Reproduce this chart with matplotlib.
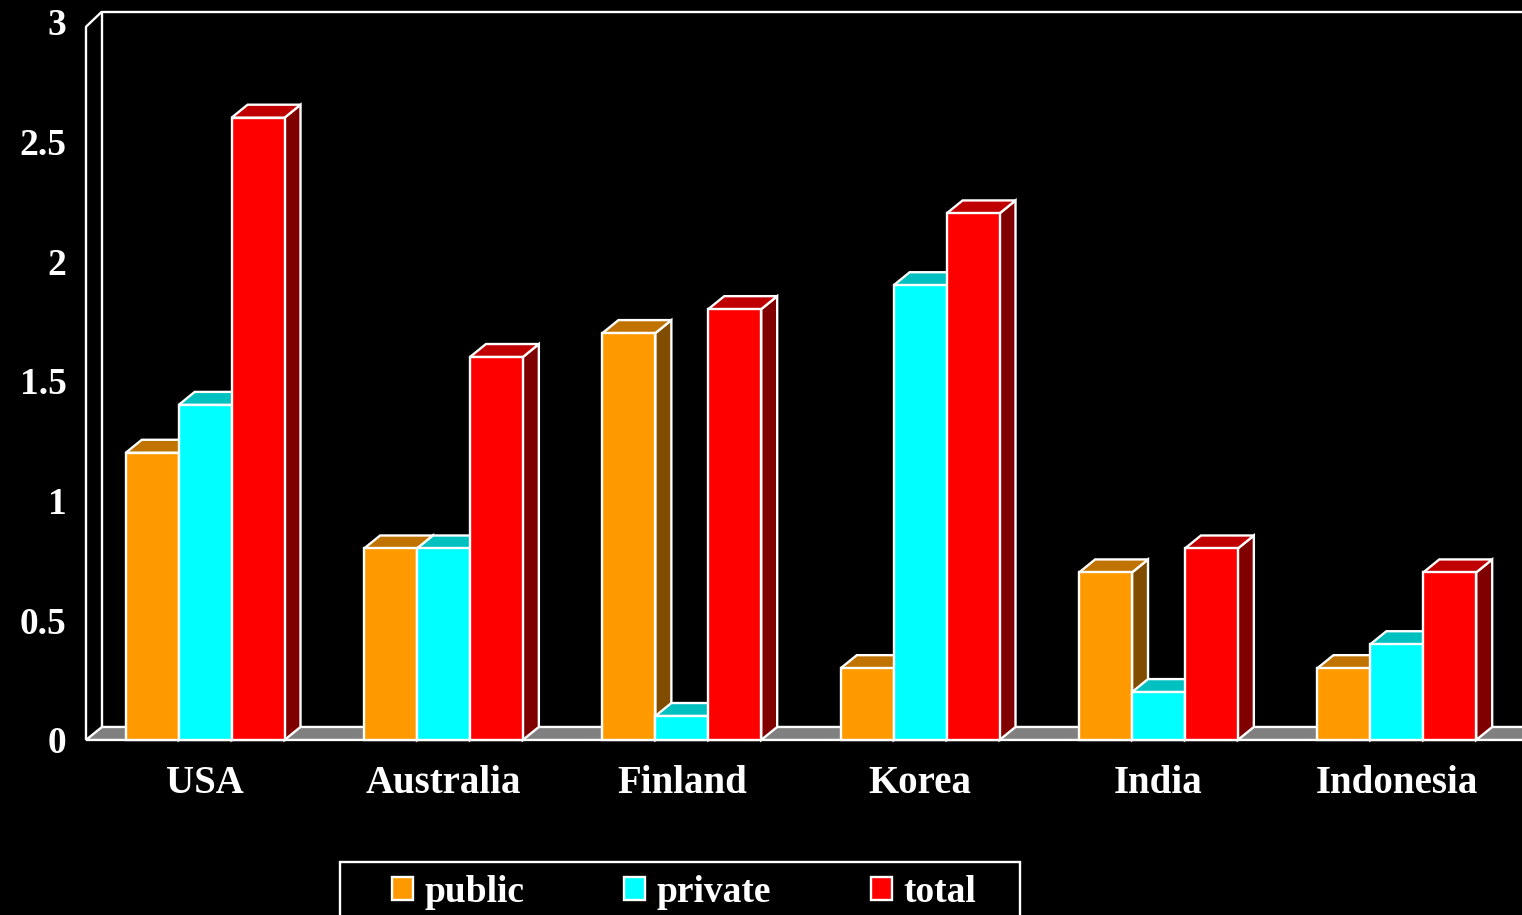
import matplotlib.pyplot as plt
from matplotlib.patches import Polygon, Rectangle, Patch

countries = ['USA', 'Australia', 'Finland', 'Korea', 'India', 'Indonesia']
public = [1.2, 0.8, 1.7, 0.3, 0.7, 0.3]
private = [1.4, 0.8, 0.1, 1.9, 0.2, 0.4]
total = [2.6, 1.6, 1.8, 2.2, 0.8, 0.7]
series = ['public', 'private', 'total']
yticks = [0, 0.5, 1, 1.5, 2, 2.5, 3]
ytick_labels = ['0', '0.5', '1', '1.5', '2', '2.5', '3']

# front / top / side shades for the fake 3D look
shades = {
    'public': ('#FF9900', '#C07300', '#804C00'),
    'private': ('#00FFFF', '#00C0C0', '#008080'),
    'total': ('#FF0000', '#C00000', '#800000'),
}

font = {'family': 'Liberation Serif', 'weight': 'bold', 'color': 'white'}

fig = plt.figure(figsize=(15.22, 9.15), dpi=100, facecolor='black')
ax = fig.add_axes([0.0565, 0.1913, 1430 / 1522, 0.7847])
ax.set_facecolor('black')
ax.set_xlim(-0.5, 5.5)
ax.set_ylim(0, 3)

dx = 16 / 238.4  # depth offset, x units
dy = 13 / 239.3  # depth offset, y units
w = 0.222        # bar width
lw = 1.7

# floor
ax.add_patch(Polygon([(-0.5, 0), (5.7, 0), (5.7 + dx, dy), (-0.5 + dx, dy)],
                     closed=True, facecolor='#808080', edgecolor='white',
                     linewidth=lw, clip_on=False, zorder=1))
# side wall and back wall
ax.plot([-0.5, -0.5, -0.5 + dx], [0, 2.98, 3 + dy * 0.8], color='white',
        lw=lw, clip_on=False, zorder=1, solid_capstyle='butt')
ax.plot([-0.5 + dx, -0.5 + dx, 5.7], [dy, 3 + dy * 0.8, 3 + dy * 0.8],
        color='white', lw=lw, clip_on=False, zorder=1)

values = {'public': public, 'private': private, 'total': total}
for i in range(len(countries)):
    for j, name in enumerate(series):
        h = values[name][i]
        front, top, side = shades[name]
        x0 = i + (j - 1) * w - w / 2
        ax.add_patch(Polygon([(x0 + w, 0), (x0 + w + dx, dy), (x0 + w + dx, h + dy), (x0 + w, h)],
                             closed=True, facecolor=side, edgecolor='white',
                             linewidth=lw, clip_on=False, zorder=2))
        ax.add_patch(Polygon([(x0, h), (x0 + w, h), (x0 + w + dx, h + dy), (x0 + dx, h + dy)],
                             closed=True, facecolor=top, edgecolor='white',
                             linewidth=lw, clip_on=False, zorder=2))
        ax.add_patch(Rectangle((x0, 0), w, h, facecolor=front, edgecolor='white',
                               linewidth=lw, clip_on=False, zorder=2))

for s in ax.spines.values():
    s.set_visible(False)
ax.set_xticks(range(len(countries)))
ax.set_xticklabels(countries, fontdict=font, fontsize=28)
ax.set_yticks(yticks)
ax.set_yticklabels(ytick_labels, fontdict=font, fontsize=27)
ax.tick_params(axis='x', length=0, pad=18)
ax.tick_params(axis='y', length=0, pad=14)

# legend box drawn separately, the entries spread inside it
fig.patches.append(Rectangle((340 / 1522, -0.02), 680 / 1522, 0.02 + 53 / 915,
                             transform=fig.transFigure, facecolor='black',
                             edgecolor='white', linewidth=lw, zorder=0))
handles = [Patch(facecolor=shades[n][0], edgecolor='white', linewidth=lw) for n in series]
leg = fig.legend(handles, series, ncol=3, loc='upper left', mode='expand',
                 bbox_to_anchor=(379 / 1522, 0, 610 / 1522, 53 / 915),
                 borderaxespad=0, borderpad=0.35, handlelength=0.56, handleheight=0.56,
                 handletextpad=0.3, frameon=False, labelcolor='white',
                 prop={'family': 'Liberation Serif', 'weight': 'bold', 'size': 27})

plt.savefig('out.png', dpi=100, facecolor='black')
